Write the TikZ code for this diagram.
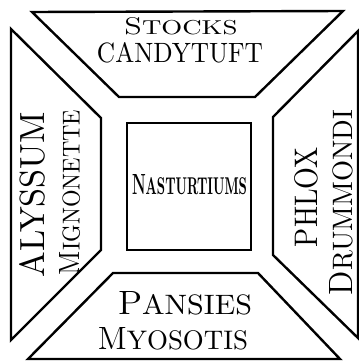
\documentclass[tikz,border=0pt]{standalone}
\usepackage{graphicx}
\newcommand\fitbox[3]{\resizebox{#1pt}{#2pt}{#3}}
\newcommand\ini[2]{{\large #1}{\normalsize #2}}
\tikzset{
  bed/.style={draw=black, line width=2.4pt, line join=miter, fill=white},
  lbl/.style={inner sep=0pt, outer sep=0pt, anchor=center, text=black},
}
\begin{document}
\begin{tikzpicture}[x=1pt,y=-1pt]
\useasboundingbox (0,0) rectangle (359,362);
\fill[white] (0,0) rectangle (359,362);
% beds
\draw[bed] (32,12) -- (343,11) -- (255,97) -- (119,97) -- cycle;
\draw[bed] (11,29) -- (101,118) -- (101,250) -- (11,340) -- cycle;
\draw[bed] (358,31) -- (273,117) -- (273,255) -- (358,338) -- cycle;
\draw[bed] (113,273) -- (258,273) -- (340,359) -- (28,359) -- cycle;
\draw[bed] (127,123) rectangle (251,250);
% labels
\node[lbl] (stocks) at (181,26.5) {\fitbox{113}{17}{\ini{S}{TOCKS}}};
\node[lbl] (candytuft) at (180,53) {\fitbox{166}{20}{CANDYTUFT}};
\node[lbl] (pansies) at (185,303.5) {\fitbox{134}{23}{\ini{P}{ANSIES}}};
\node[lbl] (myosotis) at (173,339) {\fitbox{150}{22}{\ini{M}{YOSOTIS}}};
\node[lbl] (nasturtiums) at (189.5,185) {\fitbox{115}{20}{\bfseries\ini{N}{ASTURTIUMS}}};
\node[lbl, rotate=90] (alyssum) at (32.5,194.5) {\fitbox{165}{25}{ALYSSUM}};
\node[lbl, rotate=90] (mignonette) at (70,192.5) {\fitbox{165}{20}{\ini{M}{IGNONETTE}}};
\node[lbl, rotate=90] (phlox) at (306.5,197) {\fitbox{100}{23}{PHLOX}};
\node[lbl, rotate=90] (drummondi) at (341.5,202.5) {\fitbox{185}{23}{\ini{D}{RUMMONDI}}};
\end{tikzpicture}
\end{document}
